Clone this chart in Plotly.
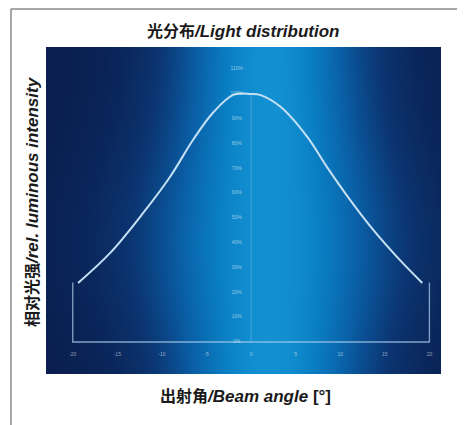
import numpy as np
import plotly.graph_objects as go

# ---- data ----
angles = [-19.4, -15.8, -12.1, -9.1, -6.5, -4.3, -2.0, 0.0, 1.0, 3.3, 6.3, 8.5, 11.1, 13.7, 16.7, 19.2]
intensity = [23.8, 35.9, 52.0, 66.5, 81.5, 92.3, 99.6, 100.0, 99.6, 94.8, 82.7, 70.6, 57.3, 45.2, 33.0, 23.8]

x_ticks = [-20, -15, -10, -5, 0, 5, 10, 15, 20]
x_tick_labels = [str(v) for v in x_ticks]
y_ticks = [0, 10, 20, 30, 40, 50, 60, 70, 80, 90, 100, 110]
y_tick_labels = [f"{v}%" for v in y_ticks]

frame_x = [-20, -20, 20, 20]
frame_y = [24, 0, 0, 24]

CJK = "Noto Sans CJK SC"
LAT = "Liberation Sans Narrow, Arial Narrow, Liberation Sans"


def label(cn, en, extra=""):
    return (f"<b><span style='font-family:{CJK};font-size:16px'>{cn}</span>"
            f"<span style='font-size:17px'><i>/{en}</i>{extra}</span></b>")


title_text = label("光分布", "Light distribution")
xlabel_text = label("出射角", "Beam angle", " [°]")
ylabel_text = label("相对光强", "rel. luminous intensity")

X_RANGE = [-23.0, 21.3]
Y_RANGE = [-12.9, 118.9]

fig = go.Figure()

# background gradient (decoration)
bg_x = np.linspace(X_RANGE[0], X_RANGE[1], 240)
bg_y = np.linspace(Y_RANGE[0] - 1, Y_RANGE[1] + 1, 40)
BX, BY = np.meshgrid(bg_x, bg_y)
width = 11.0 + 3.0 * np.exp(-((BY - 40) / 45.0) ** 2)
bg_z = np.exp(-((BX - 2.0) / width) ** 2)
fig.add_trace(go.Heatmap(
    x=bg_x, y=bg_y, z=bg_z,
    colorscale=[[0, "#0a1e4e"], [0.3, "#0b3673"], [0.6, "#0a5fa6"], [0.85, "#0a7fc3"], [1, "#1290d2"]],
    showscale=False, hoverinfo="skip", zmin=0, zmax=1, zsmooth="best",
))

# centre line
fig.add_trace(go.Scatter(x=[0, 0], y=[0, 100], mode="lines",
                         line=dict(color="rgba(170,210,240,0.35)", width=1), hoverinfo="skip"))
# frame
fig.add_trace(go.Scatter(x=frame_x, y=frame_y, mode="lines",
                         line=dict(color="rgba(170,205,235,0.75)", width=1.3), hoverinfo="skip"))
# curve
fig.add_trace(go.Scatter(x=angles, y=intensity, mode="lines", line_shape="spline",
                         line=dict(color="#c4e0f5", width=2.0), hoverinfo="skip"))

# tick labels drawn inside the plot
fig.add_trace(go.Scatter(x=[-1.6] * len(y_ticks), y=y_ticks, mode="text", text=y_tick_labels,
                         textfont=dict(size=5, color="rgba(255,255,255,0.55)", family=LAT),
                         hoverinfo="skip"))
fig.add_trace(go.Scatter(x=x_ticks, y=[-5.0] * len(x_ticks), mode="text", text=x_tick_labels,
                         textfont=dict(size=5, color="rgba(255,255,255,0.55)", family=LAT),
                         hoverinfo="skip"))

# page has an 8px body margin; plot area in page pixels: x 46..441, y 47..374
OFF = 8
W, H = 465, 425
PL, PR, PT, PB = 46, 441, 47, 374
L, T = PL - OFF, PT - OFF
R = (W + OFF) - PR
B = (H + OFF) - PB


def px(xp):
    return (xp - PL) / (PR - PL)


def py(yp):
    return (PB - yp) / (PB - PT)


ann_common = dict(xref="paper", yref="paper", showarrow=False, xanchor="center", yanchor="middle")

fig.update_layout(
    width=W, height=H, margin=dict(l=L, r=R, t=T, b=B),
    paper_bgcolor="white", plot_bgcolor="#0a1e4e", showlegend=False,
    xaxis=dict(range=X_RANGE, visible=False, fixedrange=True),
    yaxis=dict(range=Y_RANGE, visible=False, fixedrange=True),
    font=dict(family=LAT),
    annotations=[
        dict(text=title_text, x=px(243), y=py(30),
             font=dict(size=17, color="#1a1a1a", family=LAT), **ann_common),
        dict(text=xlabel_text, x=px(245), y=py(395),
             font=dict(size=17, color="#1a1a1a", family=LAT), **ann_common),
        dict(text=ylabel_text, x=px(31), y=py(202), textangle=-90,
             font=dict(size=17, color="#1a1a1a", family=LAT), **ann_common),
    ],
    shapes=[
        dict(type="line", xref="paper", yref="paper", x0=px(11), x1=px(11), y0=py(9), y1=py(440),
             line=dict(color="#8a8a8a", width=1.5)),
        dict(type="line", xref="paper", yref="paper", x0=px(11), x1=px(480), y0=py(9), y1=py(9),
             line=dict(color="#8a8a8a", width=1.5)),
    ],
)

fig.write_html("out.html")
